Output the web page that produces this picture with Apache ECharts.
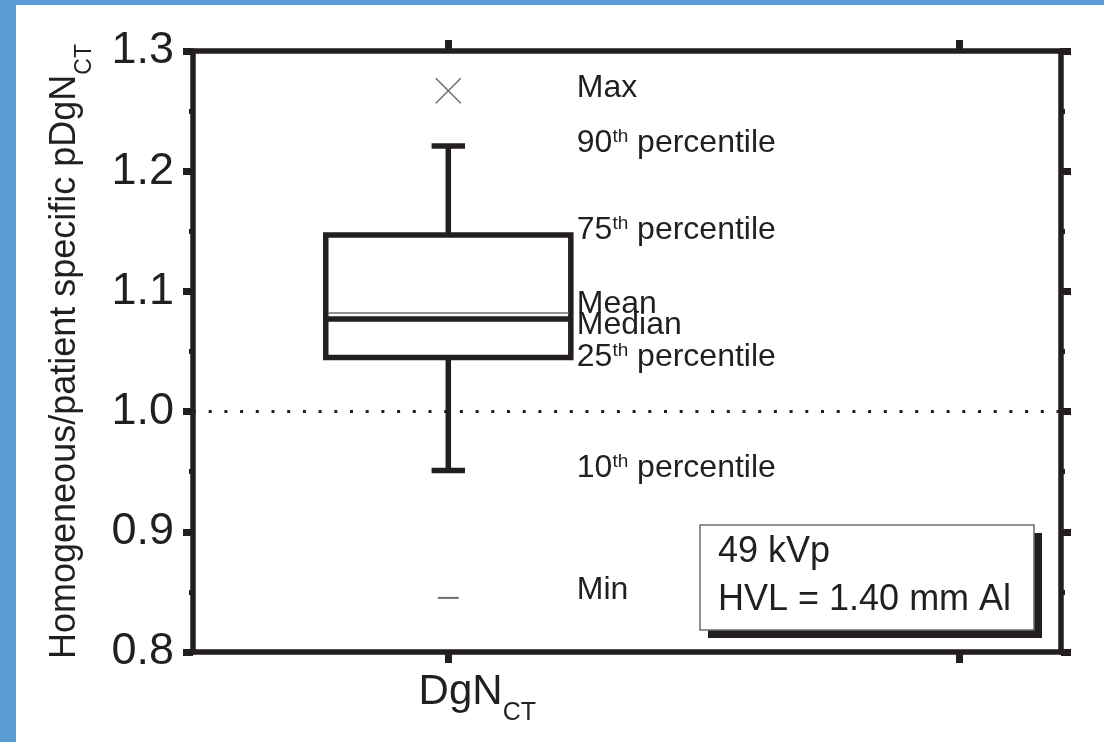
<!DOCTYPE html>
<html><head><meta charset="utf-8">
<script src="https://cdn.jsdelivr.net/npm/echarts@6/dist/echarts.min.js"></script>
<style>html,body{margin:0;padding:0;background:#fff}#chart{width:1104px;height:742px}</style>
</head><body><div id="chart"></div>
<script>
// ---- data ----
const categoryPositions = [1];
const categoryLabels = ['{m|DgN}{s|CT}'];
const xTickValues = [1, 2];
const p10 = [0.951];
const q1 = [1.045];
const median = [1.077];
const q3 = [1.147];
const p90 = [1.221];
const mean = [1.082];
const minVals = [0.845];
const maxVals = [1.267];
const yTickValues = [0.8, 0.9, 1.0, 1.1, 1.2, 1.3];
const referenceLine = [1.0];
const annotationTexts = ['Max', '90{sup|th} percentile', '75{sup|th} percentile', 'Mean', 'Median', '25{sup|th} percentile', '10{sup|th} percentile', 'Min'];
const annotationValues = [maxVals[0], p90[0], q3[0], mean[0], median[0], q1[0], p10[0], minVals[0]];
const boxInfo = ['49 kVp', 'HVL = 1.40 mm Al'];
const yAxisTitle = '{m|Homogeneous/patient specific pDgN}{s|CT}';

// ---- layout / style ----
const INK = '#231f20';
const GRAY = '#6d6e71';
const FONT = '"Liberation Sans", Arial, Helvetica, sans-serif';
const BOX_HALF = 0.24;     // x units
const CAP_HALF = 0.0327;   // x units
const labelNudges = [-2, -3, -4.5, -8.5, 6, 0, -2.5, -7.7];

const boxData = categoryPositions.map((x, i) => [x, p10[i], q1[i], median[i], q3[i], p90[i], mean[i], minVals[i], maxVals[i]]);

const axisLine = { show: true, onZero: false, lineStyle: { color: INK, width: 5.5 } };

const chart = echarts.init(document.getElementById('chart'), null, { renderer: 'canvas' });
chart.setOption({
  animation: false,
  backgroundColor: '#fff',
  grid: { left: 193, right: 43, top: 51, bottom: 90, containLabel: false },
  xAxis: [
    {
      type: 'value', position: 'bottom', min: 0.5, max: 2.2,
      axisLine: axisLine,
      axisTick: { show: true, customValues: xTickValues, length: 11, lineStyle: { color: INK, width: 7 } },
      axisLabel: {
        show: true, customValues: categoryPositions, margin: 19,
        formatter: (v) => categoryLabels[categoryPositions.indexOf(v)] || '',
        color: INK, fontFamily: FONT, padding: [0, 0, 0, 58],
        rich: {
          m: { fontSize: 42, lineHeight: 42, fontFamily: FONT, color: INK },
          s: { fontSize: 25, lineHeight: 25, fontFamily: FONT, color: INK, padding: [30, 0, 0, 0], verticalAlign: 'top' }
        }
      },
      splitLine: { show: false }
    },
    {
      type: 'value', position: 'top', min: 0.5, max: 2.2,
      axisLine: axisLine,
      axisTick: { show: true, customValues: xTickValues, length: 11, lineStyle: { color: INK, width: 7 } },
      axisLabel: { show: false },
      splitLine: { show: false }
    }
  ],
  yAxis: [
    {
      type: 'value', position: 'left', min: yTickValues[0], max: yTickValues[yTickValues.length - 1], interval: 0.1,
      axisLine: axisLine,
      axisTick: { show: true, length: 10, lineStyle: { color: INK, width: 7 } },
      minorTick: { show: true, splitNumber: 2, length: 4, lineStyle: { color: INK, width: 5 } },
      axisLabel: { show: true, margin: 19, fontSize: 45, fontFamily: FONT, color: INK, formatter: (v) => v.toFixed(1) },
      splitLine: { show: false },
      name: yAxisTitle, nameLocation: 'middle', nameGap: 110,
      nameTextStyle: {
        color: INK, fontFamily: FONT,
        rich: {
          m: { fontSize: 36, lineHeight: 36, fontFamily: FONT, color: INK },
          s: { fontSize: 23, lineHeight: 23, fontFamily: FONT, color: INK, padding: [26, 0, 0, 0], verticalAlign: 'top' }
        }
      }
    },
    {
      type: 'value', position: 'right', min: yTickValues[0], max: yTickValues[yTickValues.length - 1], interval: 0.1,
      axisLine: axisLine,
      axisTick: { show: true, length: 10, lineStyle: { color: INK, width: 7 } },
      minorTick: { show: true, splitNumber: 2, length: 4, lineStyle: { color: INK, width: 5 } },
      axisLabel: { show: false },
      splitLine: { show: false }
    }
  ],
  series: [
    {
      type: 'custom',
      xAxisIndex: 0, yAxisIndex: 0,
      data: boxData,
      encode: { x: 0, y: [1, 2, 3, 4, 5, 6, 7, 8] },
      z: 3,
      renderItem: function (params, api) {
        const x = api.value(0);
        const y = (i) => api.coord([x, api.value(i)])[1];
        const cx = api.coord([x, api.value(1)])[0];
        const bw = api.size([BOX_HALF, 0])[0];
        const cw = api.size([CAP_HALF, 0])[0];
        const yP10 = y(1), yQ1 = y(2), yMed = y(3), yQ3 = y(4), yP90 = y(5), yMean = y(6), yMin = y(7), yMax = y(8);
        const thick = { stroke: INK, lineWidth: 5.5, fill: null };
        return {
          type: 'group',
          children: [
            { type: 'line', shape: { x1: cx, y1: yQ3, x2: cx, y2: yP90 }, style: thick },
            { type: 'line', shape: { x1: cx - cw, y1: yP90, x2: cx + cw, y2: yP90 }, style: thick },
            { type: 'line', shape: { x1: cx, y1: yQ1, x2: cx, y2: yP10 }, style: thick },
            { type: 'line', shape: { x1: cx - cw, y1: yP10, x2: cx + cw, y2: yP10 }, style: thick },
            { type: 'rect', shape: { x: cx - bw, y: yQ3, width: 2 * bw, height: yQ1 - yQ3 }, style: { fill: '#fff', stroke: INK, lineWidth: 5.5 } },
            { type: 'line', shape: { x1: cx - bw, y1: yMed, x2: cx + bw, y2: yMed }, style: thick },
            { type: 'line', shape: { x1: cx - bw + 2, y1: yMean, x2: cx + bw - 2, y2: yMean }, style: { stroke: GRAY, lineWidth: 1.5 } },
            { type: 'line', shape: { x1: cx - 12.5, y1: yMax - 12.5, x2: cx + 12.5, y2: yMax + 12.5 }, style: { stroke: GRAY, lineWidth: 1.5 } },
            { type: 'line', shape: { x1: cx - 12.5, y1: yMax + 12.5, x2: cx + 12.5, y2: yMax - 12.5 }, style: { stroke: GRAY, lineWidth: 1.5 } },
            { type: 'line', shape: { x1: cx - 10.5, y1: yMin, x2: cx + 10.5, y2: yMin }, style: { stroke: GRAY, lineWidth: 2 } }
          ]
        };
      }
    },
    {
      type: 'scatter',
      xAxisIndex: 0, yAxisIndex: 0,
      symbolSize: 1,
      itemStyle: { color: 'rgba(0,0,0,0)', opacity: 1 },
      silent: true,
      z: 4,
      data: annotationTexts.map((t, i) => ({
        name: t,
        value: [categoryPositions[0], annotationValues[i]],
        label: { offset: [0, labelNudges[i]] }
      })),
      label: {
        show: true, position: 'right', distance: 128, opacity: 1,
        formatter: '{b}', color: INK, fontSize: 32, lineHeight: 32, fontFamily: FONT,
        rich: { sup: { fontSize: 19, lineHeight: 19, fontFamily: FONT, color: INK, verticalAlign: 'top' } }
      },
      markLine: {
        silent: true, symbol: ['none', 'none'],
        label: { show: false },
        lineStyle: { type: [3, 12.7], width: 3, color: INK, opacity: 1 },
        emphasis: { disabled: true },
        data: referenceLine.map(v => ({ yAxis: v }))
      }
    }
  ],
  graphic: [
    { type: 'rect', x: 0, y: 0, shape: { width: 16, height: 742 }, style: { fill: '#5b9bd5' }, z: 100 },
    { type: 'rect', x: 0, y: 0, shape: { width: 1104, height: 5 }, style: { fill: '#5b9bd5' }, z: 100 },
    {
      type: 'group', x: 700, y: 525, z: 50,
      children: [
        { type: 'rect', shape: { x: 8, y: 8, width: 334, height: 105 }, style: { fill: INK } },
        { type: 'rect', shape: { x: 0, y: 0, width: 334, height: 105 }, style: { fill: '#fff', stroke: GRAY, lineWidth: 1.5 } },
        { type: 'text', x: 18, y: 3, style: { text: boxInfo.join('\n'), fontSize: 36, fontFamily: FONT, fill: INK, lineHeight: 48, verticalAlign: 'top' } }
      ]
    }
  ]
});
</script>
</body></html>
